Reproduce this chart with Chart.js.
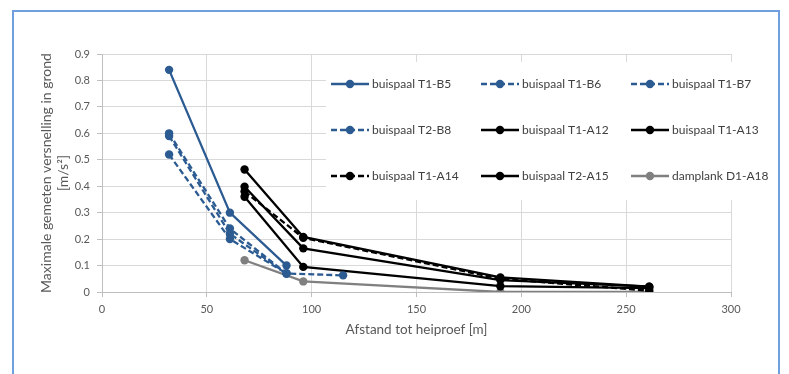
<!DOCTYPE html>
<html>
<head>
<meta charset="utf-8">
<script src="https://cdn.jsdelivr.net/npm/chart.js@4"></script>
<style>
  html, body { margin: 0; padding: 0; background: #fff; }
  #wrap { position: relative; width: 789px; height: 374px; overflow: hidden; }
  #frame { position: absolute; left: 12px; top: 10px; width: 768px; height: 400px;
           border: 2px solid #6f9fdc; box-sizing: border-box; }
  canvas { position: absolute; left: 0; top: 0; }
</style>
</head>
<body>
<div id="wrap">
  <div id="frame"></div>
  <canvas id="chart" width="789" height="374"></canvas>
</div>
<script>
// afstand tot heiproef [m]
const distB = [32, 61, 88];
const distB6 = [32, 61, 88, 115];
const distA = [68, 96, 190, 261];

// maximale versnelling [m/s2]
const seriesNames = [
    'buispaal T1-B5', 'buispaal T1-B6', 'buispaal T1-B7',
    'buispaal T2-B8', 'buispaal T1-A12', 'buispaal T1-A13',
    'buispaal T1-A14', 'buispaal T2-A15', 'damplank D1-A18'
];
const accT1B5 = [0.84, 0.30, 0.10];
const accT1B6 = [0.60, 0.24, 0.07, 0.063];
const accT1B7 = [0.59, 0.22, 0.07];
const accT2B8 = [0.52, 0.20, 0.07];
const accT1A12 = [0.463, 0.208, 0.055, 0.02];
const accT1A13 = [0.398, 0.165, 0.045, 0.02];
const accT1A14 = [0.38, 0.205, 0.05, 0.005];
const accT2A15 = [0.36, 0.095, 0.022, 0.015];
const accD1A18 = [0.12, 0.04, 0.0, 0.0];

const xTicks = [0, 50, 100, 150, 200, 250, 300];
const yTicks = [0, 0.1, 0.2, 0.3, 0.4, 0.5, 0.6, 0.7, 0.8, 0.9];

const BLUE = '#2c5b92';
const BLACK = '#000000';
const GREY = '#808080';

function pts(xs, ys) {
    return xs.map((x, i) => ({ x: x, y: ys[i] }));
}

function serie(i, xs, ys, color, dashed) {
    return {
        label: seriesNames[i],
        data: pts(xs, ys),
        borderColor: color,
        backgroundColor: color,
        borderWidth: 2.3,
        borderDash: dashed ? [6, 3] : [],
        pointRadius: 4.2,
        pointHoverRadius: 4.2,
        pointBorderWidth: 0,
        showLine: true,
        tension: 0
    };
}

const datasets = [
    serie(0, distB, accT1B5, BLUE, false),
    serie(1, distB6, accT1B6, BLUE, true),
    serie(2, distB, accT1B7, BLUE, true),
    serie(3, distB, accT2B8, BLUE, true),
    serie(4, distA, accT1A12, BLACK, false),
    serie(5, distA, accT1A13, BLACK, false),
    serie(6, distA, accT1A14, BLACK, true),
    serie(7, distA, accT2A15, BLACK, false),
    serie(8, distA, accD1A18, GREY, false)
];

// legenda in het grafiekvlak, 3 kolommen
const boxLegend = {
    id: 'boxLegend',
    afterDraw(chart) {
        const ctx = chart.ctx;
        ctx.save();
        ctx.fillStyle = '#ffffff';
        ctx.fillRect(326, 62, 440, 138);
        ctx.font = '12px Lato, "Open Sans", sans-serif';
        ctx.textBaseline = 'middle';
        ctx.textAlign = 'left';
        chart.data.datasets.forEach((ds, i) => {
            const x0 = 331 + (i % 3) * 150;
            const y = 84 + Math.floor(i / 3) * 46;
            ctx.strokeStyle = ds.borderColor;
            ctx.lineWidth = 2.3;
            ctx.setLineDash(ds.borderDash);
            ctx.beginPath();
            ctx.moveTo(x0, y);
            ctx.lineTo(x0 + 38, y);
            ctx.stroke();
            ctx.setLineDash([]);
            ctx.fillStyle = ds.borderColor;
            ctx.beginPath();
            ctx.arc(x0 + 19, y, 4.2, 0, Math.PI * 2);
            ctx.fill();
            ctx.fillStyle = '#404040';
            ctx.fillText(ds.label, x0 + 41, y);
        });
        ctx.restore();
    }
};

new Chart(document.getElementById('chart'), {
    type: 'scatter',
    data: { datasets: datasets },
    plugins: [boxLegend],
    options: {
        responsive: false,
        animation: false,
        layout: { padding: { left: 32, right: 58, top: 54, bottom: 34 } },
        plugins: {
            legend: { display: false },
            tooltip: { enabled: false }
        },
        scales: {
            x: {
                type: 'linear',
                min: 0,
                max: 300,
                afterBuildTicks: (s) => { s.ticks = xTicks.map(v => ({ value: v })); },
                afterFit: (s) => { s.height = 48; },
                grid: { color: '#d9d9d9', tickLength: 5, tickColor: '#bfbfbf' },
                border: { color: '#bfbfbf' },
                ticks: { padding: 6, color: '#595959', font: { family: 'Lato', size: 11 } },
                title: {
                    display: true,
                    text: 'Afstand tot heiproef [m]',
                    color: '#595959',
                    font: { family: 'Lato', size: 13.5 },
                    padding: { top: 0, bottom: 2 }
                }
            },
            y: {
                min: 0,
                max: 0.9,
                afterBuildTicks: (s) => { s.ticks = yTicks.map(v => ({ value: v })); },
                afterFit: (s) => { s.width = 70; },
                grid: { color: '#d9d9d9', tickLength: 5, tickColor: '#bfbfbf' },
                border: { color: '#bfbfbf' },
                ticks: {
                    padding: 7,
                    color: '#595959',
                    font: { family: 'Lato', size: 11 },
                    callback: (v) => v === 0 ? '0' : v.toFixed(1)
                },
                title: {
                    display: true,
                    text: ['Maximale gemeten versnelling in grond', '[m/s\u00b2]'],
                    color: '#595959',
                    font: { family: 'Lato', size: 14 },
                    padding: { top: 6, bottom: 0 }
                }
            }
        }
    }
});
</script>
</body>
</html>
